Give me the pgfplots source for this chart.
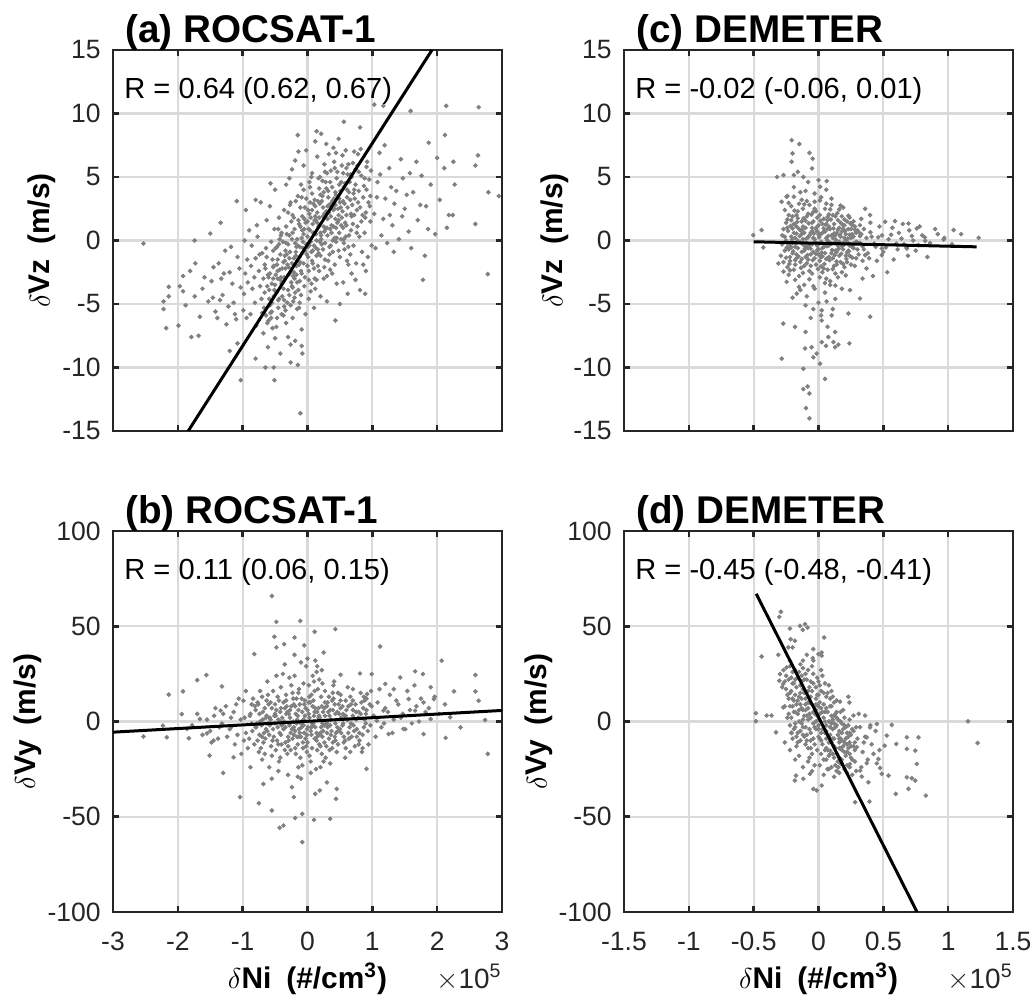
\documentclass[border=0pt]{standalone}
\usepackage{fontspec}
\setmainfont{Liberation Sans}
\usepackage{pgfplots}
\pgfplotsset{compat=1.18}

\definecolor{axcol}{HTML}{262626}
\definecolor{gridcol}{HTML}{DADADA}
\definecolor{dotcol}{HTML}{808080}
\newcommand{\tl}[1]{{\fontsize{13.3}{15}\selectfont #1}}

\pgfplotsset{
  panel/.style={
    scale only axis, width=194.5bp, height=190.5bp,
    axis line style={draw=axcol, line width=1.3bp},
    tick style={draw=axcol, line width=1.3bp},
    major tick length=3bp,
    tick align=inside, tick pos=both,
    grid=major,
    major grid style={draw=gridcol, line width=1.1bp},
    tick label style={text=axcol},
    yticklabel style={xshift=-2.7bp},
    xticklabel style={yshift=-6.7bp},
    label style={font=\bfseries\fontsize{15}{17}\selectfont, text=black},
    clip mode=individual,
  },
  dots/.style={only marks, mark=*, mark size=0.95bp, color=dotcol},
  fit/.style={black, line width=1.5bp},
}
\newcommand{\paneltitle}[1]{\node[anchor=base west, inner sep=0, xshift=6bp, yshift=3.5bp,
  font=\bfseries\fontsize{19.4}{21}\selectfont] at (rel axis cs:0,1) {#1};}
\newcommand{\rtext}[1]{\node[anchor=base west, inner sep=0, xshift=5.5bp, yshift=-24.5bp,
  font=\fontsize{14.6}{16}\selectfont] at (rel axis cs:0,1) {#1};}

\begin{document}
\begin{tikzpicture}
\useasboundingbox (0,0) rectangle (517.5bp,501bp);

% (a) ROCSAT-1, dVz
\begin{axis}[panel, at={(56.5bp,285.5bp)}, anchor=south west,
  xmin=-3, xmax=3, ymin=-15, ymax=15,
  xtick={-3,-2,...,3}, xticklabels={},
  ytick={-15,-10,...,15}, yticklabels={\tl{-15},\tl{-10},\tl{-5},\tl{0},\tl{5},\tl{10},\tl{15}},
  ylabel={$\delta$Vz\hspace{0.5em}(m/s)},
  ylabel style={at={(axis description cs:-0.162,0.5)}, anchor=base}]
\addplot[dots] coordinates {
(-0.42,-3.1) (-0.35,-1.2) (-0.28,0.4) (-0.21,-2.5) (-0.13,1.3) (-0.07,-0.6) (0.02,0.9) (0.08,-1.8) (0.15,2.2) (0.22,-0.3)
(0.31,1.7) (0.38,3.1) (0.45,0.2) (-0.47,-0.5) (-0.39,-2.2) (-0.33,1.1) (-0.24,-3.6) (-0.18,-0.9) (-0.11,2.6) (-0.04,-2.9)
(0.05,-0.1) (0.11,1.6) (0.18,-2.4) (0.26,0.7) (0.34,-1.1) (0.41,2.5) (0.48,-0.8) (-0.44,1.8) (-0.37,-3.8) (-0.3,-0.3)
(-0.23,2.0) (-0.16,-1.6) (-0.09,0.2) (-0.02,3.3) (0.06,-3.4) (0.13,0.5) (0.2,3.6) (0.27,-1.5) (0.35,0.9) (0.43,3.8)
(-0.49,-2.7) (-0.4,0.6) (-0.31,-1.9) (-0.26,3.0) (-0.19,-0.2) (-0.12,-3.2) (-0.05,1.7) (0.01,-1.3) (0.09,2.9) (0.16,-0.7)
(0.24,1.9) (0.3,-2.8) (0.39,0.0) (0.46,1.4) (-0.46,-1.5) (-0.36,2.4) (-0.27,-2.6) (-0.2,0.9) (-0.14,-3.9) (-0.06,0.5)
(0.03,2.1) (0.1,-2.2) (0.17,1.1) (0.25,-3.0) (0.33,2.8) (0.42,-1.9) (0.49,3.3) (-0.43,0.1) (-0.34,-0.8) (-0.25,1.5)
(-0.17,-2.0) (-0.08,-1.0) (0.0,0.3) (0.07,3.7) (0.14,-1.2) (0.21,0.4) (0.29,2.3) (0.36,-0.4) (0.44,1.0) (-0.38,-3.3)
(-0.15,3.5) (0.12,-3.8) (0.32,3.9)
(-0.58,-2.6) (-0.55,-4.9) (-0.53,-0.8) (-0.5,-3.5) (-0.47,-1.9) (-0.45,-5.3) (-0.43,-2.3) (-0.41,0.4) (-0.39,-4.4) (-0.37,-1.7)
(-0.35,-3.0) (-0.33,-0.2) (-0.31,-4.9) (-0.29,-2.1) (-0.27,-0.9) (-0.25,-3.3) (-0.23,0.6) (-0.21,-1.4) (-0.19,-4.1) (-0.17,-2.7)
(-0.15,-0.4) (-0.13,-1.9) (-0.11,1.1) (-0.09,-2.6) (-0.07,-0.1) (-0.05,-3.6) (-0.03,1.4) (-0.01,-1.1) (0.01,2.4) (0.03,-0.4)
(0.05,1.8) (0.07,-1.6) (0.09,0.6) (0.11,3.2) (0.13,-0.6) (0.15,1.4) (0.17,-1.0) (0.19,2.9) (0.21,0.1) (0.23,3.5)
(0.25,1.1) (0.27,-0.2) (0.29,4.1) (0.31,0.4) (0.33,2.2) (0.35,4.6) (0.37,1.2) (0.39,-0.9) (0.41,3.3) (0.43,1.7)
(0.45,4.9) (0.47,2.5) (0.49,0.6) (0.51,3.9) (0.53,1.8) (0.55,5.3) (0.57,2.9) (0.59,0.3) (0.61,3.4) (0.63,6.0)
(-0.56,-6.1) (-0.52,-2.0) (-0.48,-4.1) (-0.44,-0.3) (-0.4,-5.8) (-0.36,-2.9) (-0.32,-1.1) (-0.28,-4.3) (-0.24,-1.8) (-0.2,-3.0)
(-0.16,0.1) (-0.12,-1.3) (-0.08,1.9) (-0.04,-0.8) (0.0,-2.0) (0.04,0.8) (0.08,-0.8) (0.12,1.9) (0.16,3.1) (0.2,-1.2)
(0.24,2.6) (0.28,0.9) (0.32,-1.6) (0.36,2.9) (0.4,1.1) (0.44,-0.1) (0.48,2.0) (0.52,4.6) (0.56,-0.2) (0.6,1.2)
(-0.62,-3.6) (-0.46,-3.0) (-0.34,-5.5) (-0.22,-4.8) (-0.1,-4.3) (0.02,-3.1) (0.14,-3.1) (0.26,-2.1) (0.38,-2.6) (0.5,-1.3)
(-0.3,2.2) (-0.18,3.1) (-0.06,4.0) (0.06,5.0) (0.18,4.1) (0.3,5.3) (0.42,5.7) (0.54,6.7) (0.66,5.2) (0.72,7.0)
(-0.66,-4.1) (-0.63,-1.3) (-0.6,-2.9) (-0.57,-5.7) (-0.54,-1.5) (-0.51,-3.9) (-0.49,-0.6) (-0.46,-2.4) (-0.44,-4.6) (-0.42,-1.1)
(-0.4,-3.4) (-0.38,-0.1) (-0.36,-4.7) (-0.34,-2.2) (-0.32,0.5) (-0.3,-3.9) (-0.28,-1.4) (-0.26,-5.1) (-0.24,0.1) (-0.22,-2.8)
(-0.2,-4.5) (-0.18,-1.2) (-0.16,-3.3) (-0.14,1.6) (-0.12,-0.5) (-0.1,-2.4) (-0.08,0.8) (-0.06,-1.8) (-0.04,2.6) (-0.02,-0.3)
(0.0,1.5) (0.02,-2.4) (0.04,3.0) (0.06,-0.9) (0.08,1.3) (0.1,-0.4) (0.12,2.7) (0.14,0.0) (0.16,-2.0) (0.18,1.8)
(0.2,0.6) (0.22,3.1) (0.24,-0.7) (0.26,2.1) (0.28,4.6) (0.3,1.0) (0.32,3.4) (0.34,-0.5) (0.36,1.9) (0.38,4.2)
(0.4,2.4) (0.42,0.2) (0.44,3.6) (0.46,5.4) (0.48,1.6) (0.5,3.0) (0.52,0.1) (0.54,2.3) (0.56,4.2) (0.58,1.4)
(0.6,5.7) (0.62,2.6) (0.64,0.4) (0.66,3.2) (0.68,5.0) (0.7,1.3) (0.72,2.0) (0.74,4.4) (0.76,0.6) (0.78,3.0)
(-0.65,-2.2) (-0.59,-4.6) (-0.53,-3.0) (-0.47,-6.1) (-0.41,-2.9) (-0.35,-1.6) (-0.29,-2.7) (-0.23,-3.7) (-0.17,-0.5) (-0.11,-1.7)
(-0.05,0.9) (0.01,-0.5) (0.07,2.4) (0.13,1.6) (0.19,-0.1) (0.25,3.8) (0.31,2.7) (0.37,0.6) (0.43,2.8) (0.49,4.4)
(0.55,1.0) (0.61,4.0) (0.67,2.1) (0.73,3.3) (0.79,5.4) (0.85,2.0) (0.91,4.0) (0.97,3.5) (0.83,1.5) (0.88,4.9)
(-0.7,-1.0) (-0.62,-6.5) (-0.45,0.9) (-0.37,-5.9) (-0.21,1.8) (-0.13,-5.3) (0.03,4.6) (0.11,-3.0) (0.27,5.4) (0.35,-2.3)
(0.45,-3.4) (0.63,-1.9) (0.71,-0.4) (0.05,-4.0) (-0.27,2.8) (-0.09,3.4) (0.17,4.9) (0.41,6.2) (0.59,7.1) (0.77,5.9)
(0.52,1.2) (0.58,4.5) (0.63,-0.5) (0.69,2.8) (0.74,5.6) (0.8,0.3) (0.86,3.4) (0.92,6.2) (0.97,1.5) (0.55,3.1)
(0.61,-1.6) (0.67,0.8) (0.72,4.0) (0.78,6.8) (0.84,-0.9) (0.9,2.2) (0.95,4.8) (0.53,5.9) (0.6,2.0) (0.66,-1.1)
(0.71,3.7) (0.77,1.1) (0.83,5.1) (0.88,0.6) (0.94,3.0) (0.99,-0.4) (0.56,0.1) (0.62,5.2) (0.68,1.9) (0.75,-1.8)
(0.81,2.6) (0.87,4.3) (0.93,-1.3) (0.98,5.5) (0.57,-0.7) (0.64,3.8) (0.7,6.1) (0.76,2.4) (0.82,7.2) (0.89,1.8)
(0.96,2.7) (0.51,2.6) (0.65,4.6) (0.79,3.9) (0.91,5.8)
(1.03,2.1) (1.08,4.6) (1.14,0.4) (1.2,3.3) (1.26,5.7) (1.31,1.2) (1.37,3.9) (1.44,6.4) (1.5,2.5) (1.56,0.7)
(1.05,-0.6) (1.11,6.9) (1.17,1.7) (1.23,-0.2) (1.29,4.2) (1.34,2.9) (1.41,0.1) (1.47,4.9) (1.53,3.6) (1.58,5.3)
(1.07,3.4) (1.19,7.5) (1.33,-0.9) (1.46,1.9) (1.12,5.2) (1.27,2.0)
(1.63,3.8) (1.7,1.6) (1.76,5.1) (1.83,2.7) (1.9,4.4) (1.97,0.5) (2.04,3.2) (2.11,5.7) (2.18,2.0) (2.27,4.4)
(1.68,6.2) (1.86,0.9) (2.0,6.5) (1.74,2.8)
(-0.98,-4.2) (-0.93,-1.5) (-0.88,-5.8) (-0.82,-2.9) (-0.77,0.3) (-0.71,-4.6) (-0.66,-1.9) (-0.6,-6.3) (-0.55,-3.4) (-0.51,0.9)
(-0.96,-2.6) (-0.9,0.8) (-0.85,-3.8) (-0.79,-6.7) (-0.74,-1.1) (-0.68,-3.0) (-0.63,1.6) (-0.58,-5.1) (-0.53,-2.1) (-0.99,-5.5)
(-0.92,-3.3) (-0.86,-0.4) (-0.81,-4.9) (-0.75,-2.4) (-0.7,-5.7) (-0.64,-0.6) (-0.59,-3.9) (-0.54,-6.9) (-0.94,-6.1) (-0.87,-2.0)
(-0.8,-1.4) (-0.73,-3.6) (-0.67,-5.3) (-0.61,-2.7) (-0.56,-0.1) (-0.52,-4.4) (-0.78,1.2) (-0.97,0.0)
(-1.48,-3.2) (-1.42,-5.6) (-1.37,-1.8) (-1.31,-4.3) (-1.25,-6.6) (-1.2,-2.5) (-1.14,-4.9) (-1.08,-1.3) (-1.03,-3.7) (-1.45,-2.1)
(-1.39,-6.1) (-1.33,-3.0) (-1.27,-0.8) (-1.22,-5.2) (-1.16,-3.4) (-1.1,-6.2) (-1.05,-2.2) (-1.35,-4.7) (-1.18,-0.5) (-1.46,-4.5)
(-1.29,-2.6) (-1.12,-5.8)
(-1.97,-3.6) (-1.88,-5.1) (-1.81,-2.4) (-1.74,-4.4) (-1.66,-6.0) (-1.59,-2.9) (-1.53,-4.8) (-1.92,-2.8) (-1.62,-3.8)
(-0.28,4.9) (-0.19,6.3) (-0.1,4.4) (-0.02,7.1) (0.07,5.3) (0.15,6.6) (0.23,4.7) (0.29,7.6) (-0.24,5.6) (-0.06,5.9)
(0.04,4.2) (0.12,7.8) (0.19,5.0) (-0.14,7.0) (0.26,6.0) (-0.33,4.4) (0.36,5.5) (0.44,6.9)
(-0.68,-7.3) (-0.61,-8.4) (-0.55,-5.6) (-0.48,-6.8) (-0.42,-8.9) (-0.36,-5.2) (-0.3,-7.6) (-0.23,-6.1) (-0.16,-5.4) (-0.09,-7.0)
(-0.03,-5.8) (-0.64,-5.9) (-0.45,-4.7) (-0.33,-6.5) (-0.26,-8.2) (-0.12,-4.9) (-0.5,-7.7) (0.02,-4.6) (-0.19,-7.9) (0.1,-5.3)
(0.2,-4.4) (0.3,-4.8)
(0.55,-3.3) (0.68,-2.6) (0.81,-3.9) (0.9,-2.4) (0.62,-4.2) (0.74,-3.1) (0.86,-1.9) (0.5,-5.0)
(0.4,7.3) (0.48,8.0) (0.33,6.8) (-0.95,2.4) (-0.72,3.0) (-0.58,2.7)
(-2.53,-0.24) (-2.22,-4.8) (-2.22,-5.4) (-2.18,-6.9) (-2.14,-3.65) (-2.14,-4.4) (-1.92,-4.0) (-1.99,-6.7) (-1.79,-7.6) (-1.68,-7.5)
(-1.73,-1.8) (-1.74,0.0) (-1.5,0.55) (-1.34,1.4) (-1.09,3.1) (-0.8,3.2) (-0.5,4.0) (-0.57,4.5) (-0.15,8.3) (0.14,8.6)
(0.21,8.4) (0.56,9.35) (0.81,8.9) (1.03,10.7) (1.17,10.6) (1.59,10.2) (2.14,10.6) (2.64,10.5) (2.12,8.3) (1.87,7.7)
(2.63,6.7) (2.59,5.9) (2.25,6.2) (2.79,3.8) (2.95,3.5) (2.59,1.3) (2.15,1.0) (2.24,2.0) (1.81,-1.2) (1.78,-3.1)
(2.78,-2.65) (1.6,-0.6) (0.43,-6.3) (0.89,-4.2) (-0.09,-8.3) (-0.08,-8.9) (-0.26,-9.6) (-0.65,-10.0) (-0.52,-10.0) (-0.8,-9.3)
(-1.03,-11.0) (-0.51,-11.0) (-0.11,-13.6) (-0.15,-9.8) (-1.08,-8.1) (-1.2,-8.7)
};
\addplot[fit] coordinates {(-1.84,-15) (1.92,15)};
\paneltitle{(a) ROCSAT-1}
\rtext{R = 0.64 (0.62, 0.67)}
\end{axis}

% (c) DEMETER, dVz
\begin{axis}[panel, at={(312bp,285.5bp)}, anchor=south west,
  xmin=-1.5, xmax=1.5, ymin=-15, ymax=15,
  xtick={-1.5,-1,...,1.5}, xticklabels={},
  ytick={-15,-10,...,15}, yticklabels={\tl{-15},\tl{-10},\tl{-5},\tl{0},\tl{5},\tl{10},\tl{15}},
  ylabel={$\delta$Vz\hspace{0.5em}(m/s)},
  ylabel style={at={(axis description cs:-0.158,0.5)}, anchor=base}]
\addplot[dots] coordinates {
(-0.28,-0.3) (-0.25,1.4) (-0.22,-1.6) (-0.19,0.6) (-0.16,2.3) (-0.13,-0.9) (-0.1,1.0) (-0.07,-2.4) (-0.04,0.2) (-0.01,1.8)
(0.02,-1.3) (0.05,0.7) (0.08,-0.4) (0.11,2.0) (0.14,-1.9) (0.17,0.3) (0.2,1.2) (0.23,-0.8) (0.26,0.5) (0.29,-1.4)
(-0.27,0.9) (-0.24,-2.1) (-0.21,2.7) (-0.18,-0.5) (-0.15,-2.8) (-0.12,0.1) (-0.09,3.1) (-0.06,-1.1) (-0.03,2.5) (0.0,-0.7)
(0.03,1.3) (0.06,-3.0) (0.09,0.9) (0.12,-0.2) (0.15,1.6) (0.18,-2.5) (0.21,0.0) (0.24,1.8) (0.27,-0.6) (0.3,0.8)
(-0.29,-1.2) (-0.26,0.3) (-0.23,-0.7) (-0.2,1.9) (-0.17,-1.4) (-0.14,0.8) (-0.11,-3.5) (-0.08,2.1) (-0.05,-0.3) (-0.02,-1.9)
(0.01,0.5) (0.04,-2.2) (0.07,1.6) (0.1,-1.0) (0.13,0.4) (0.16,-0.1) (0.19,2.6) (0.22,-1.7) (0.25,0.2) (0.28,1.1)
(-0.26,-0.8) (-0.2,-0.2) (-0.14,3.8) (-0.08,-1.5) (-0.02,0.9) (0.04,-0.5) (0.1,2.8) (0.16,-1.2) (-0.23,2.0) (-0.17,1.1)
(-0.11,-2.0) (-0.05,1.4) (0.01,-2.9) (0.07,0.0) (0.13,-2.6) (0.19,0.9) (-0.12,2.5) (-0.03,-3.8) (0.06,2.9) (-0.18,-3.1)
(-0.27,-1.7) (-0.25,0.0) (-0.24,1.0) (-0.22,-0.4) (-0.21,1.6) (-0.2,-1.0) (-0.19,-2.3) (-0.18,0.2) (-0.17,2.0) (-0.16,-0.6)
(-0.15,0.9) (-0.14,-1.7) (-0.13,1.5) (-0.12,-0.3) (-0.11,0.6) (-0.1,-1.3) (-0.09,1.9) (-0.08,-0.6) (-0.07,0.4) (-0.06,-2.0)
(-0.05,1.0) (-0.04,-0.9) (-0.03,0.1) (-0.02,2.3) (-0.01,-0.4) (0.0,1.2) (0.01,-1.6) (0.02,0.5) (0.03,-0.6) (0.04,1.7)
(0.05,-1.0) (0.06,0.2) (0.07,-2.3) (0.08,1.1) (0.09,-0.2) (0.1,0.4) (0.11,-1.4) (0.12,1.3) (0.13,-0.8) (0.14,0.6)
(0.15,-0.4) (0.16,1.0) (0.17,-1.7) (0.18,0.7) (0.19,-0.7) (0.2,-2.1) (0.21,0.5) (0.22,1.5) (0.23,-0.2) (0.24,-1.2)
(0.25,0.9) (0.26,-0.5) (0.27,0.3) (0.28,-2.0) (0.29,0.6) (0.31,-1.1) (0.33,0.5) (0.35,-0.7) (0.37,0.2) (0.39,-1.4)
(-0.26,2.4) (-0.23,-2.7) (-0.21,0.3) (-0.19,1.3) (-0.17,-1.1) (-0.15,2.9) (-0.13,0.5) (-0.11,-0.8) (-0.09,-1.8) (-0.07,2.8)
(-0.05,-2.6) (-0.03,-1.4) (-0.01,0.7) (0.01,2.0) (0.03,-2.5) (0.05,2.5) (0.07,0.9) (0.09,-3.2) (0.11,0.2) (0.13,1.9)
(0.15,-2.9) (0.17,1.4) (0.19,-0.2) (0.21,-1.2) (0.23,0.9) (0.25,-1.9) (0.27,1.5) (0.29,-0.1) (0.32,1.2) (0.34,-1.6)
(-0.28,0.4) (-0.22,-1.3) (-0.16,0.0) (-0.1,-0.5) (-0.04,1.5) (0.02,-0.1) (0.08,-1.3) (0.14,-0.9) (0.2,0.2) (0.26,1.2)
(-0.24,-0.2) (-0.18,-1.9) (-0.12,1.1) (-0.06,0.6) (0.0,-1.1) (0.06,1.3) (0.12,-2.0) (0.18,1.9) (0.24,-0.4) (0.3,-0.7)
(-0.245,-0.55) (-0.235,0.75) (-0.225,-1.85) (-0.215,1.15) (-0.205,0.05) (-0.195,-0.85) (-0.185,2.35) (-0.175,-0.25) (-0.165,1.45) (-0.155,-1.25)
(-0.145,0.35) (-0.135,-2.15) (-0.125,0.85) (-0.115,1.75) (-0.105,-0.65) (-0.095,0.15) (-0.085,-1.15) (-0.075,1.35) (-0.065,-0.35) (-0.055,2.05)
(-0.045,-1.55) (-0.035,0.55) (-0.025,-0.15) (-0.015,1.05) (-0.005,-2.25) (0.005,0.25) (0.015,1.55) (0.025,-0.95) (0.035,0.65) (0.045,-1.85)
(0.055,1.25) (0.065,-0.45) (0.075,0.35) (0.085,-1.55) (0.095,1.65) (0.105,-0.75) (0.115,0.95) (0.125,-1.15) (0.135,0.05) (0.145,2.15)
(0.155,-0.65) (0.165,0.45) (0.175,-1.05) (0.185,1.25) (0.195,-0.35) (0.205,0.75) (0.215,-1.45) (0.225,0.15) (0.235,-0.85) (0.245,1.35)
(-0.24,1.65) (-0.22,-2.35) (-0.2,0.95) (-0.18,-1.55) (-0.16,1.75) (-0.14,-0.15) (-0.12,-2.55) (-0.1,1.55) (-0.08,0.25) (-0.06,-0.65)
(-0.04,2.25) (-0.02,-1.05) (0.0,0.45) (0.02,-2.05) (0.04,0.95) (0.06,-1.45) (0.08,2.05) (0.1,-0.25) (0.12,0.55) (0.14,-1.65)
(0.16,2.45) (0.18,-0.45) (0.2,1.65) (0.22,-0.95) (0.24,0.45) (0.26,-1.35) (0.28,0.85) (0.3,-0.15) (0.32,0.35) (0.34,-0.45)
(-0.25,-1.35) (-0.21,-0.55) (-0.17,0.55) (-0.13,-1.45) (-0.09,-0.35) (-0.05,0.75) (-0.01,-0.75) (0.03,-1.25) (0.07,1.85) (0.11,-2.25)
(0.15,0.85) (0.19,-1.85) (0.23,1.95) (0.27,-0.25) (0.31,0.65) (-0.19,3.45) (-0.11,2.85) (-0.03,3.05) (0.05,-3.35) (0.13,-3.55)
(-0.15,-3.65) (-0.07,-3.05) (0.01,3.15) (0.09,2.45) (-0.23,2.95) (0.17,2.75) (-0.27,-2.45) (0.21,-2.75) (0.36,-1.15) (0.4,0.65)
(0.43,-0.25) (0.46,0.25) (0.52,-0.55) (0.56,0.45) (0.6,-0.25) (0.64,0.15) (0.68,-0.55) (0.72,0.35) (0.77,-0.35) (0.82,0.25)
(0.32,-0.2) (0.35,0.9) (0.38,-1.0) (0.41,0.3) (0.44,-0.5) (0.47,1.1) (0.5,-0.9) (0.54,0.1) (0.58,-1.5) (0.62,0.6)
(0.66,-0.3) (0.7,0.8) (0.75,-0.8) (0.8,0.4) (0.86,-0.2) (0.92,0.5) (0.33,1.7) (0.37,-2.2) (0.4,1.4) (0.45,-1.6)
(0.49,0.4) (0.53,-2.5) (0.57,1.0) (0.61,-0.7) (0.65,1.3) (0.69,-1.2) (0.73,0.0) (0.78,1.1) (0.84,-1.3) (0.9,0.9)
(0.97,0.2) (1.03,-0.3) (1.1,0.5) (0.34,-3.0) (0.42,-2.8) (0.36,2.5)
(-0.14,-3.9) (-0.09,-4.4) (-0.04,-3.6) (0.0,-4.9) (0.05,-4.1) (0.09,-3.5) (0.13,-4.6) (-0.1,-5.1) (0.02,-5.9) (0.11,-5.4)
(-0.06,-6.1) (0.07,-6.8) (-0.2,-4.5) (0.18,-3.8)
(-0.24,3.5) (-0.19,4.2) (-0.13,3.2) (-0.08,4.6) (-0.03,3.7) (0.02,3.4) (0.06,4.0) (-0.16,5.4) (-0.1,3.9) (0.1,3.3)
(-0.207,7.9) (-0.148,7.6) (-0.2,6.86) (-0.07,6.9) (-0.045,6.44) (-0.207,6.2) (-0.19,5.15) (-0.05,5.67) (-0.117,5.0) (-0.27,5.15)
(-0.32,5.0) (0.0,4.76) (0.063,4.68) (0.012,4.23) (-0.246,3.44) (-0.285,3.05) (0.398,2.0) (0.514,1.47) (0.59,1.52) (0.694,1.34)
(0.758,0.95) (1.042,0.82) (1.235,0.21) (0.965,0.08) (0.823,-0.03) (0.681,-0.63) (0.488,-0.63) (0.488,-1.15) (-0.439,0.82) (-0.503,0.42)
(-0.426,-0.55) (-0.31,-1.81) (-0.246,-3.26) (-0.168,-4.18) (0.23,-5.75) (0.398,-6.0) (0.32,-4.57) (0.243,-3.91) (-0.272,-6.54) (-0.181,-6.8)
(-0.1,-7.2) (-0.104,-8.5) (-0.053,-8.4) (0.025,-8.0) (-0.014,-8.9) (0.012,-9.7) (-0.04,-9.2) (0.058,-8.3) (0.128,-8.4) (0.076,-7.6)
(0.128,-7.2) (0.115,-8.0) (0.153,-8.2) (0.238,-8.1) (-0.284,-9.3) (-0.117,-10.1) (0.05,-10.9) (-0.117,-11.7) (-0.084,-11.5) (-0.07,-12.05)
(-0.097,-13.2) (-0.07,-14.0) (0.025,-6.3) (0.025,-5.5) (-0.04,-5.4) (0.063,-4.8) (0.102,-5.9)
};
\addplot[fit] coordinates {(-0.5,-0.1) (1.22,-0.5)};
\paneltitle{(c) DEMETER}
\rtext{R = -0.02 (-0.06, 0.01)}
\end{axis}

% (b) ROCSAT-1, dVy
\begin{axis}[panel, at={(56.5bp,45bp)}, anchor=south west,
  xmin=-3, xmax=3, ymin=-100, ymax=100,
  xtick={-3,-2,...,3}, xticklabels={\tl{-3},\tl{-2},\tl{-1},\tl{0},\tl{1},\tl{2},\tl{3}},
  ytick={-100,-50,...,100}, yticklabels={\tl{-100},\tl{-50},\tl{0},\tl{50},\tl{100}},
  ylabel={$\delta$Vy\hspace{0.5em}(m/s)},
  ylabel style={at={(axis description cs:-0.2,0.5)}, anchor=base},
  xlabel={$\delta$Ni\hspace{0.5em}(\#/cm\textsuperscript{3})},
  xlabel style={at={(axis description cs:0.5,0)}, anchor=base, yshift=-38bp}]
\addplot[dots] coordinates {
(-0.95,-6) (-0.88,4) (-0.82,-12) (-0.76,9) (-0.71,-2) (-0.66,-17) (-0.61,14) (-0.57,1) (-0.52,-8) (-0.48,6)
(-0.44,-21) (-0.41,18) (-0.37,-4) (-0.33,11) (-0.3,-13) (-0.27,2) (-0.23,-9) (-0.2,24) (-0.17,-1) (-0.14,15)
(-0.11,-19) (-0.08,5) (-0.05,-6) (-0.02,29) (0.01,-3) (0.04,10) (0.07,-14) (0.1,3) (0.13,-25) (0.16,17)
(0.19,-7) (0.22,8) (0.26,-11) (0.29,0) (0.33,13) (0.37,-5) (0.41,21) (0.45,-16) (0.49,4) (0.54,-2)
(0.59,11) (0.64,-9) (0.7,6) (0.76,-4) (0.82,15) (0.88,1) (0.94,-12) (0.99,8)
(-0.97,2) (-0.9,-9) (-0.84,12) (-0.79,-3) (-0.73,16) (-0.68,-11) (-0.63,3) (-0.59,-24) (-0.55,7) (-0.5,-1)
(-0.46,13) (-0.43,-6) (-0.39,2) (-0.35,-15) (-0.32,8) (-0.28,-2) (-0.25,19) (-0.21,-7) (-0.18,4) (-0.15,-12)
(-0.12,9) (-0.09,-3) (-0.06,20) (-0.03,-9) (0.0,6) (0.03,-18) (0.06,14) (0.09,-1) (0.12,7) (0.15,-8)
(0.18,22) (0.21,-3) (0.24,5) (0.28,-19) (0.31,10) (0.35,-2) (0.39,6) (0.43,-10) (0.47,15) (0.52,-6)
(0.57,3) (0.62,18) (0.67,-1) (0.73,-13) (0.79,5) (0.85,-7) (0.91,12) (0.97,-2)
(-0.92,-14) (-0.86,-1) (-0.8,6) (-0.74,-7) (-0.69,1) (-0.64,-4) (-0.6,9) (-0.56,-13) (-0.51,3) (-0.47,-10)
(-0.42,0) (-0.38,25) (-0.34,-3) (-0.31,5) (-0.26,-6) (-0.22,12) (-0.19,-14) (-0.16,1) (-0.13,-4) (-0.1,31)
(-0.07,-11) (-0.04,3) (-0.01,-16) (0.02,19) (0.05,-5) (0.08,8) (0.11,-9) (0.14,26) (0.17,2) (0.2,-13)
(0.23,-1) (0.27,16) (0.3,-6) (0.34,3) (0.38,-14) (0.42,9) (0.46,-3) (0.51,7) (0.56,-11) (0.61,1)
(0.66,13) (0.72,-5) (0.78,2) (0.84,-16) (0.9,4) (0.96,9)
(-0.78,-1) (-0.74,4) (-0.7,-8) (-0.66,7) (-0.62,-5) (-0.58,2) (-0.54,-10) (-0.5,9) (-0.46,-3) (-0.42,5)
(-0.4,-12) (-0.36,0) (-0.33,14) (-0.3,-8) (-0.27,6) (-0.24,-4) (-0.21,9) (-0.18,-17) (-0.15,3) (-0.12,-6)
(-0.09,12) (-0.06,-2) (-0.03,7) (0.0,-11) (0.03,2) (0.06,-7) (0.09,11) (0.12,-3) (0.15,5) (0.18,-12)
(0.21,13) (0.24,-5) (0.27,3) (0.3,8) (0.33,-9) (0.36,1) (0.4,12) (0.44,-6) (0.48,9) (0.52,2)
(0.56,-8) (0.6,6) (0.65,-3) (0.7,11) (0.75,1) (0.8,-6) (0.86,7) (0.9,-1)
(-0.77,10) (-0.72,-14) (-0.67,-6) (-0.63,11) (-0.58,-2) (-0.53,16) (-0.49,-15) (-0.45,1) (-0.41,-7) (-0.37,10)
(-0.34,-11) (-0.29,4) (-0.26,-15) (-0.22,0) (-0.19,8) (-0.16,-8) (-0.13,17) (-0.1,-1) (-0.07,-14) (-0.04,11)
(-0.01,-4) (0.02,4) (0.05,-21) (0.08,-2) (0.11,16) (0.14,-10) (0.17,7) (0.2,-6) (0.23,20) (0.26,-2)
(0.29,-13) (0.32,5) (0.36,-7) (0.39,15) (0.43,-1) (0.47,-12) (0.51,11) (0.55,4) (0.59,-14) (0.63,8)
(0.68,-8) (0.74,9) (0.8,-10) (0.87,13) (0.93,-5)
(-0.89,3) (-0.85,-5) (-0.81,8) (-0.77,-10) (-0.73,0) (-0.69,5) (-0.65,-9) (-0.61,-1) (-0.57,10) (-0.53,-4)
(-0.49,3) (-0.45,-12) (-0.41,7) (-0.37,-1) (-0.33,4) (-0.29,-10) (-0.25,8) (-0.21,-3) (-0.17,12) (-0.13,-8)
(-0.09,0) (-0.05,9) (-0.01,-7) (0.03,13) (0.07,-1) (0.11,5) (0.15,-15) (0.19,2) (0.23,-8) (0.27,10)
(0.31,-3) (0.35,6) (0.39,-11) (0.43,4) (0.47,-5) (0.51,14) (0.55,-1) (0.59,3) (0.63,-6) (0.67,9)
(0.71,-2) (0.75,5) (0.79,-12) (0.83,10) (0.87,-3) (0.91,6)
(-0.86,9) (-0.8,-3) (-0.75,-16) (-0.7,13) (-0.64,2) (-0.59,-7) (-0.55,-18) (-0.5,4) (-0.44,11) (-0.4,-2)
(-0.35,7) (-0.31,-17) (-0.27,-1) (-0.23,15) (-0.19,-5) (-0.14,6) (-0.1,-8) (-0.06,1) (-0.02,-13) (0.02,10)
(0.06,-3) (0.1,21) (0.14,-6) (0.18,3) (0.22,-17) (0.26,7) (0.3,-1) (0.34,-15) (0.38,11) (0.42,-8)
(0.46,5) (0.5,-4) (0.54,8) (0.58,-10) (0.62,1) (0.66,-16) (0.7,3) (0.76,-8) (0.82,4) (0.88,11)
(-0.62,21) (-0.42,-19) (-0.28,23) (-0.08,-23) (0.08,24) (0.25,-21) (0.4,19) (0.58,-19) (-0.15,-29) (0.12,32)
(-0.55,-30) (0.3,-32) (-0.05,40) (0.22,27) (-0.48,24) (0.7,17) (-0.7,-20) (0.85,-14) (-0.95,16) (0.98,16)
(-0.3,-28) (-0.1,-30) (0.05,-27) (0.2,-24) (-0.45,-26) (0.35,-22) (-0.2,35) (0.0,33) (-0.35,30) (0.15,29)
(1.02,3) (1.08,10) (1.14,-3) (1.2,7) (1.27,14) (1.33,1) (1.4,9) (1.47,4) (1.54,16) (1.61,-1)
(1.68,8) (1.75,12) (1.82,5) (1.9,18) (1.05,-8) (1.11,17) (1.18,-1) (1.24,5) (1.31,-6) (1.37,11)
(1.44,2) (1.51,-4) (1.58,6) (1.65,19) (1.72,0) (1.79,10) (1.87,7) (1.96,13) (2.03,4) (2.12,9)
(-1.03,1) (-1.08,-7) (-1.14,5) (-1.2,-4) (-1.26,8) (-1.32,-1) (-1.38,-9) (-1.44,3) (-1.5,-5) (-1.06,12)
(-1.12,-12) (-1.18,2) (-1.24,-8) (-1.3,4) (-1.36,-3) (-1.42,7) (-1.48,-11) (-1.55,1) (-1.62,-7) (-1.7,4)
(-1.78,-2) (-1.02,-17) (-1.1,9)
(-0.55,65.9) (-0.48,52.3) (-0.11,52.8) (0.11,47.1) (0.43,48.5) (1.12,39.4) (-0.51,44.5) (-0.2,44.1) (-0.36,40.6) (-0.48,38.9)
(-0.82,35.4) (0.25,36.2) (2.07,31.9) (-1.56,24.4) (-1.7,21.7) (-2.14,14.1) (-1.92,15.8) (-1.32,18.4) (2.59,24.4) (2.59,15.8)
(2.64,10.9) (2.26,15.8) (2.74,0.8) (2.78,-17.0) (2.13,-8.6) (1.66,26.3) (1.78,24.9) (0.99,24.9) (0.81,25.2) (0.51,24.5)
(-2.23,-2.2) (-2.53,-7.9) (-2.17,-8.3) (-1.83,-8.8) (-1.51,-17.9) (-1.3,-27.0) (-1.04,-39.7) (-0.75,-42.9) (-0.55,-46.7) (-0.43,-55.8)
(-0.37,-54.6) (-0.19,-50.7) (-0.08,-63.3) (-0.08,-48.5) (0.1,-51.6) (0.35,-51.1) (0.44,-40.6) (0.19,-36.2) (0.12,-38.0) (0.91,-24.9)
(0.45,-35.4) (-0.24,-34.5) (-0.88,-24.0) (-1.14,-18.8) (-0.68,-32.8) (-0.21,-39.7) (-0.14,-24.0) (1.56,11.8) (1.33,17.0) (1.2,19.7)
(1.43,23.1) (1.95,11.8) (1.84,3.9) (1.48,-3.9) (1.66,5.7) (1.9,1.3) (2.2,2.2) (2.36,-3.1) (1.79,-6.6) (-1.94,3.9)
(-1.66,1.3) (-1.86,-3.9) (-1.55,-6.2) (-1.34,5.7) (-1.45,-10.0) (-1.18,-3.1) (-0.99,10.9) (-0.98,-10.0) (1.07,0.4) (1.17,5.7)
(0.92,14.4) (1.25,-6.6)
};
\addplot[fit] coordinates {(-3,-5.6) (3,5.8)};
\paneltitle{(b) ROCSAT-1}
\rtext{R = 0.11 (0.06, 0.15)}
\node[anchor=base east, inner sep=0, yshift=-38bp, font=\fontsize{14}{16}\selectfont, text=axcol]
  at (rel axis cs:1,0) {$\times$10\textsuperscript{5}};
\end{axis}

% (d) DEMETER, dVy
\begin{axis}[panel, at={(312bp,45bp)}, anchor=south west,
  xmin=-1.5, xmax=1.5, ymin=-100, ymax=100,
  xtick={-1.5,-1,...,1.5}, xticklabels={\tl{-1.5},\tl{-1},\tl{-0.5},\tl{0},\tl{0.5},\tl{1},\tl{1.5}},
  ytick={-100,-50,...,100}, yticklabels={\tl{-100},\tl{-50},\tl{0},\tl{50},\tl{100}},
  ylabel={$\delta$Vy\hspace{0.5em}(m/s)},
  ylabel style={at={(axis description cs:-0.198,0.5)}, anchor=base},
  xlabel={$\delta$Ni\hspace{0.5em}(\#/cm\textsuperscript{3})},
  xlabel style={at={(axis description cs:0.5,0)}, anchor=base, yshift=-38bp}]
\addplot[dots] coordinates {
(-0.28,18) (-0.26,8) (-0.25,24) (-0.23,12) (-0.22,-2) (-0.2,20) (-0.19,5) (-0.18,14) (-0.17,-8) (-0.15,26)
(-0.14,9) (-0.13,-1) (-0.12,17) (-0.11,3) (-0.1,-12) (-0.09,22) (-0.08,7) (-0.07,-4) (-0.06,13) (-0.05,29)
(-0.04,-9) (-0.03,4) (-0.02,18) (-0.01,-15) (0.0,1) (0.01,10) (0.02,-6) (0.03,24) (0.04,-20) (0.05,5)
(0.06,-2) (0.07,15) (0.08,-11) (0.09,8) (0.1,-24) (0.11,-4) (0.12,3) (0.13,-14) (0.14,11) (0.15,-7)
(0.16,-19) (0.17,0) (0.18,-10) (0.19,6) (0.2,-16) (0.21,-3) (0.22,-23) (0.23,-8) (0.24,1) (0.25,-13)
(0.26,-20) (0.27,-5) (0.28,-11) (0.29,-26) (0.3,-9)
(-0.27,27) (-0.24,2) (-0.21,16) (-0.18,-3) (-0.16,11) (-0.14,30) (-0.12,-7) (-0.1,12) (-0.08,-14) (-0.06,2)
(-0.04,20) (-0.02,-4) (0.0,14) (0.02,-17) (0.04,9) (0.06,-9) (0.08,19) (0.1,-1) (0.12,-19) (0.14,2)
(0.16,-5) (0.18,-22) (0.2,-2) (0.22,-12) (0.24,-17) (0.26,-4) (0.28,-15) (-0.2,8) (-0.16,-11) (-0.12,6)
(-0.08,1) (-0.04,-1) (0.0,-8) (0.04,-4) (0.08,-18) (0.12,10) (0.16,-14) (-0.22,29) (-0.18,22) (-0.1,25)
(-0.02,9) (0.06,7) (0.14,-26) (-0.24,14) (-0.13,21) (-0.07,-19) (0.01,-23) (0.09,-7) (0.17,-9) (0.11,13)
(-0.25,17) (-0.23,4) (-0.21,23) (-0.2,12) (-0.19,-4) (-0.17,18) (-0.16,4) (-0.15,13) (-0.14,-5) (-0.13,24)
(-0.12,1) (-0.11,15) (-0.1,6) (-0.09,-7) (-0.08,27) (-0.07,10) (-0.06,-10) (-0.05,16) (-0.04,5) (-0.03,-3)
(-0.02,12) (-0.01,23) (0.0,-4) (0.01,4) (0.02,16) (0.03,-12) (0.04,2) (0.05,-6) (0.06,13) (0.07,-15)
(0.08,0) (0.09,-3) (0.1,8) (0.11,-17) (0.12,-9) (0.13,4) (0.14,-2) (0.15,-21) (0.16,-9) (0.17,5)
(0.18,-15) (0.19,-4) (0.2,-11) (0.21,-18) (0.22,-6) (0.23,-14) (0.24,-24) (0.25,-7) (-0.22,8) (-0.18,27)
(-0.14,19) (-0.1,-3) (-0.06,21) (-0.02,0) (0.02,-10) (0.06,-14) (0.1,-11) (0.14,5) (0.18,-1) (0.22,-27)
(-0.26,21) (-0.16,-6) (-0.08,10) (0.0,21) (0.08,-25) (0.16,-27) (0.04,-28) (-0.12,32) (-0.04,32) (0.12,-29)
(-0.22,15) (-0.21,2) (-0.2,26) (-0.19,11) (-0.18,-1) (-0.17,9) (-0.16,23) (-0.15,0) (-0.14,15) (-0.13,7)
(-0.12,-3) (-0.11,22) (-0.1,9) (-0.09,-10) (-0.08,16) (-0.07,4) (-0.06,-6) (-0.05,9) (-0.04,25) (-0.03,-12)
(-0.02,6) (-0.01,14) (0.0,-2) (0.01,-9) (0.02,7) (0.03,-4) (0.04,15) (0.05,-15) (0.06,-5) (0.07,5)
(0.08,-8) (0.09,-17) (0.1,3) (0.11,-9) (0.12,-13) (0.13,-3) (0.14,-17) (0.15,1) (0.16,-11) (0.17,-22)
(0.18,-6) (0.19,-13) (0.2,2) (0.21,-9) (0.22,-16) (0.23,-2) (0.24,-11) (0.25,-19) (0.27,-13) (0.29,-3)
(-0.19,20) (-0.15,6) (-0.11,-8) (-0.07,18) (-0.03,8) (0.01,19) (0.05,0) (0.09,12) (0.13,-23) (0.17,-14)
(-0.21,-6) (-0.17,-13) (-0.13,12) (-0.09,3) (-0.05,-17) (-0.01,3) (0.03,5) (0.07,-25) (0.11,1) (0.15,-7)
(-0.23,22) (-0.18,5) (-0.12,28) (-0.06,-14) (0.0,8) (0.06,-20) (0.12,-1) (0.18,-20) (0.24,-6) (0.28,-21)
(-0.2,-9) (-0.14,-10) (-0.08,-21) (0.02,27) (0.1,16) (0.2,-25) (0.26,-28) (-0.03,-23) (0.05,20) (-0.09,35)
(-0.22,-15) (-0.18,-20) (-0.12,-24) (-0.05,-26) (-0.26,-11) (-0.15,-18)
(0.32,-3) (0.34,-16) (0.36,-8) (0.38,-20) (0.41,-12) (0.44,-5) (0.47,-15) (0.33,-24) (0.4,-2) (0.45,-22)
(0.31,4) (0.35,-11)
(-0.29,57.6) (-0.302,54.9) (-0.22,48.8) (-0.143,50.2) (-0.104,51.1) (-0.084,49.3) (-0.122,48.1) (0.043,44.1) (-0.439,34.1) (-0.31,35.0)
(-0.483,4.3) (-0.483,0.1) (-0.4,3.1) (-0.362,3.1) (-0.328,-5.7) (-0.207,-6.0) (-0.045,33.3) (0.025,36.2) (0.025,34.5) (-0.182,42.4)
(-0.2,38.9) (0.166,10.4) (0.23,13.0) (0.238,10.0) (0.45,-1.3) (0.565,-1.8) (0.527,-7.4) (0.51,-12.7) (0.6,-11.8) (0.681,-8.3)
(0.771,-8.3) (0.681,-14.4) (0.746,-15.3) (0.758,-22.3) (0.681,-29.3) (0.746,-31.0) (0.72,-29.8) (0.694,-35.4) (0.596,-38.0) (0.828,-38.9)
(0.488,-27.5) (0.54,-28.4) (0.475,-24.4) (0.393,-42.0) (0.282,-42.4) (0.385,-31.9) (0.334,-28.9) (1.153,0.1) (1.227,-11.3) (0.424,-17.0)
(0.462,-19.7) (0.372,-21.9) (0.321,-25.8) (0.243,-22.3) (0.153,-24.0) (-0.04,-35.4) (-0.014,-36.2) (0.025,-33.6) (-0.182,-31.0) (-0.117,-30.1)
(-0.174,-28.4) (-0.066,-27.5) (-0.272,7.4) (-0.297,24.9) (-0.302,21.4) (-0.272,19.7) (-0.246,28.4) (-0.22,31.9) (-0.233,38.9) (-0.215,43.2)
(-0.04,38.0) (0.0,35.4) (0.269,3.1) (0.359,3.1) (0.398,-3.1) (0.372,-8.3) (0.295,-13.5) (0.089,-15.3)
};
\addplot[fit] coordinates {(-0.48,67) (0.76,-100)};
\paneltitle{(d) DEMETER}
\rtext{R = -0.45 (-0.48, -0.41)}
\node[anchor=base east, inner sep=0, yshift=-38bp, font=\fontsize{14}{16}\selectfont, text=axcol]
  at (rel axis cs:1,0) {$\times$10\textsuperscript{5}};
\end{axis}
\end{tikzpicture}
\end{document}
